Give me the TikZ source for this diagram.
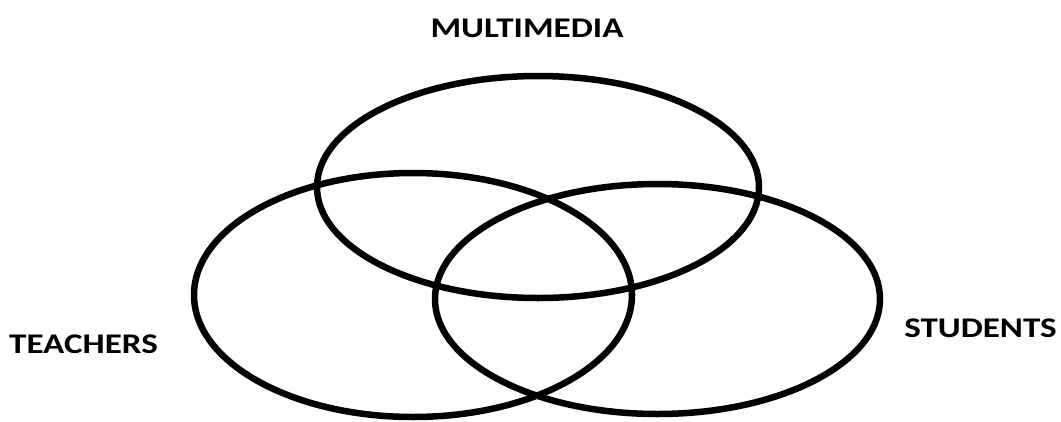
\documentclass[tikz,border=0pt]{standalone}
\usepackage{fontspec}
\setmainfont{Carlito}
\usetikzlibrary{shapes.geometric}
\newcommand{\widetext}[1]{\scalebox{1.23}[1]{#1}}
\tikzset{
  venn/.style={draw=black, line width=6.5pt, ellipse, inner sep=0pt, outer sep=0pt},
  lbl/.style={font=\fontsize{28.5}{32}\selectfont\bfseries, text=black, inner sep=0pt}
}
\begin{document}
\begin{tikzpicture}[x=1pt,y=-1pt]
\useasboundingbox (0,0) rectangle (1061,421);
\node[venn, minimum width=442pt, minimum height=222pt] (mm) at (538,187) {};
\node[venn, minimum width=438pt, minimum height=244pt] (te) at (413,295) {};
\node[venn, minimum width=445pt, minimum height=230pt] (st) at (657.5,299) {};
\node[lbl] (lmm) at (527,28) {\widetext{MULTIMEDIA}};
\node[lbl] (lte) at (83.5,344) {\widetext{TEACHERS}};
\node[lbl] (lst) at (980.5,328) {\widetext{STUDENTS}};
\end{tikzpicture}
\end{document}
